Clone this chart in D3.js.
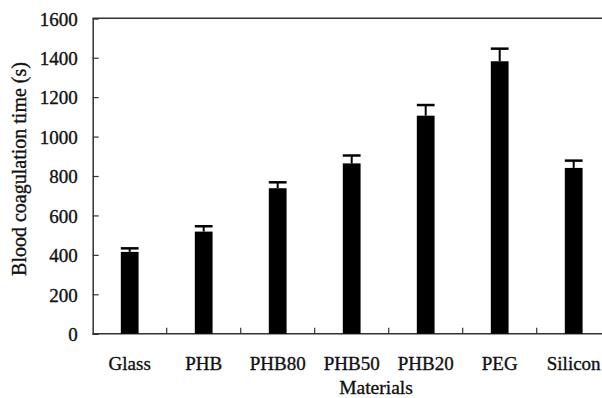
<!DOCTYPE html>
<html>
<head>
<meta charset="utf-8">
<script src="https://cdn.jsdelivr.net/npm/d3@7"></script>
<style>
  html, body { margin: 0; padding: 0; background: #fff; }
  svg { display: block; }
  text { font-family: "Liberation Serif", "Times New Roman", serif; fill: #111; stroke: #111; stroke-width: 0.35px; }
</style>
</head>
<body>
<svg id="chart" width="602" height="398"></svg>
<script>
const categories = ["Glass", "PHB", "PHB80", "PHB50", "PHB20", "PEG", "Silicon"];
const values = [415, 518, 738, 864, 1106, 1382, 841];
const errors = [18, 27, 30, 40, 54, 64, 37];
const yTicks = [0, 200, 400, 600, 800, 1000, 1200, 1400, 1600];
const xTitle = "Materials";
const yTitle = "Blood coagulation time (s)";

(function () {
const svg = d3.select("#chart");
const mLeft = 92.7, mTop = 18.3, mBottom = 333.7, step = 74;
const mRight = mLeft + step * categories.length;

const x = d3.scaleBand().domain(categories).range([mLeft, mRight]).paddingInner(0.76).paddingOuter(0.38);
const y = d3.scaleLinear().domain([0, 1600]).range([mBottom, mTop]);

// top border
svg.append("line").attr("x1", mLeft).attr("x2", 602).attr("y1", mTop).attr("y2", mTop)
  .attr("stroke", "#333").attr("stroke-width", 1.5);

// y axis
const yAxis = svg.append("g").attr("transform", `translate(${mLeft},0)`)
  .call(d3.axisRight(y).tickValues(yTicks).tickSize(6).tickFormat(d3.format("d")));
yAxis.select(".domain").attr("stroke", "#333").attr("stroke-width", 1.5);
yAxis.selectAll(".tick line").attr("stroke", "#333").attr("stroke-width", 1.2);
yAxis.selectAll(".tick text").attr("x", -15).attr("text-anchor", "end")
  .attr("font-size", 19).attr("dy", "0.36em")
  .style("font-family", '"Liberation Serif", serif').attr("fill", "#111");

// x axis with boundary ticks
const xAxisG = svg.append("g");
xAxisG.append("line").attr("x1", mLeft).attr("x2", 602).attr("y1", mBottom).attr("y2", mBottom)
  .attr("stroke", "#333").attr("stroke-width", 1.5);
const boundaries = d3.range(1, categories.length).map(i => x(categories[i]) - x.step() * x.paddingInner() / 2);
xAxisG.selectAll("line.tick").data(boundaries).join("line").attr("class", "tick")
  .attr("x1", d => d).attr("x2", d => d).attr("y1", mBottom).attr("y2", mBottom - 6)
  .attr("stroke", "#333").attr("stroke-width", 1.2);
xAxisG.selectAll("text.lbl").data(categories).join("text").attr("class", "lbl")
  .attr("x", d => x(d) + x.bandwidth() / 2).attr("y", 369.5)
  .attr("text-anchor", "middle").attr("font-size", 19).text(d => d);

// bars
const data = categories.map((c, i) => ({ c, v: values[i], e: errors[i] }));
svg.selectAll("rect.bar").data(data).join("rect").attr("class", "bar")
  .attr("x", d => x(d.c)).attr("width", x.bandwidth())
  .attr("y", d => y(d.v)).attr("height", d => y(0) - y(d.v))
  .attr("fill", "#000");

// error bars
svg.selectAll("line.err").data(data).join("line").attr("class", "err")
  .attr("x1", d => x(d.c) + x.bandwidth() / 2).attr("x2", d => x(d.c) + x.bandwidth() / 2)
  .attr("y1", d => y(d.v)).attr("y2", d => y(d.v + d.e))
  .attr("stroke", "#000").attr("stroke-width", 2);
svg.selectAll("line.cap").data(data).join("line").attr("class", "cap")
  .attr("x1", d => x(d.c)).attr("x2", d => x(d.c) + x.bandwidth())
  .attr("y1", d => y(d.v + d.e)).attr("y2", d => y(d.v + d.e))
  .attr("stroke", "#000").attr("stroke-width", 2.5);

// titles
svg.append("text").attr("x", 376).attr("y", 394).attr("text-anchor", "middle")
  .attr("font-size", 19.5).text(xTitle);
svg.append("text").attr("transform", "translate(26,169) rotate(-90)")
  .attr("text-anchor", "middle").attr("font-size", 20).text(yTitle);
})();
</script>
</body>
</html>
